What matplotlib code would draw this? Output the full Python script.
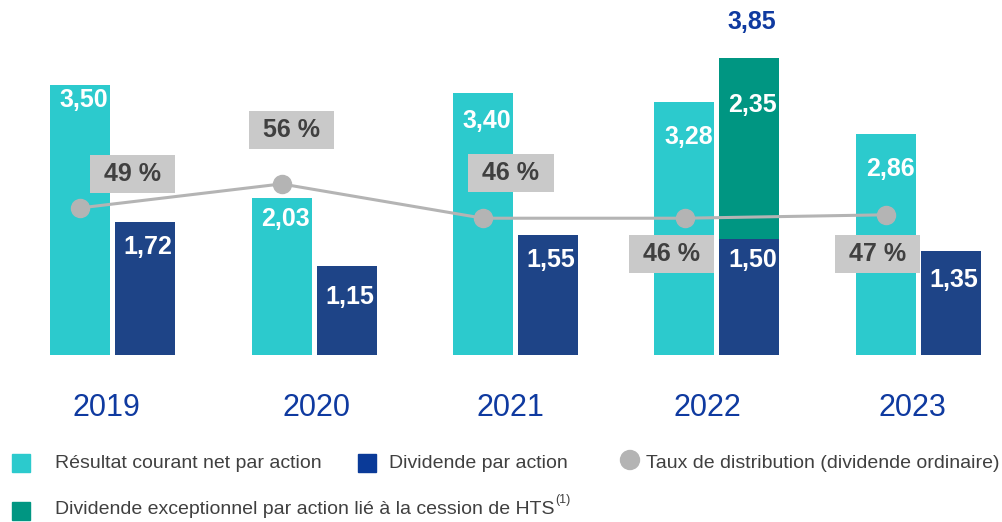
import matplotlib
matplotlib.use("Agg")
import matplotlib.pyplot as plt
import matplotlib.transforms as mtransforms
from matplotlib.patches import Rectangle, Circle
from matplotlib import font_manager
import numpy as np

# ---- data ----
years = ["2019", "2020", "2021", "2022", "2023"]
resultat = [3.50, 2.03, 3.40, 3.28, 2.86]
dividende = [1.72, 1.15, 1.55, 1.50, 1.35]
exceptionnel = [0, 0, 0, 2.35, 0]
taux = [49, 56, 46, 46, 47]
resultat_labels = ["3,50", "2,03", "3,40", "3,28", "2,86"]
dividende_labels = ["1,72", "1,15", "1,55", "1,50", "1,35"]
exceptionnel_label = "2,35"
total_label = "3,85"
taux_labels = ["49 %", "56 %", "46 %", "46 %", "47 %"]
legend_labels = ["Résultat courant net par action", "Dividende par action",
                 "Taux de distribution (dividende ordinaire)",
                 "Dividende exceptionnel par action lié à la cession de HTS"]

# ---- style ----
C_CYAN = "#2ccacd"
C_NAVY = "#1e4487"
C_NAVY_LEG = "#0a3a98"
C_GREEN = "#009682"
C_GRAY = "#b4b4b4"
C_BOX = "#c9c9c9"
C_TXT = "#404040"
C_YEAR = "#0f3aa0"

avail = {f.name for f in font_manager.fontManager.ttflist}
NARROW = "Liberation Sans Narrow" if "Liberation Sans Narrow" in avail else "Liberation Sans"
REG = "Liberation Sans"

# label placement offsets (pixels; dx right, dy up)
res_lab_dy = [-15, -21, -28, -35, -35]
div_lab_dy = [-25, -31, -25, -21, -29]
year_dx = [-6, 3, -5, -10, -6]
box_offsets = [(52, -34), (10, -54), (28, -45), (-13, 36), (-8, 39)]  # dy down

fig = plt.figure(figsize=(10.02, 5.22), dpi=100)
W, H = 1002, 522
base_px = 355
ax = fig.add_axes([0, (H - base_px) / H, 1, base_px / H])
px_per_unit = 77.1
ax.set_ylim(0, base_px / px_per_unit)
spacing = 201.5
c0 = 112.5
ax.set_xlim(-c0 / spacing, (W - c0) / spacing)
ax.axis("off")

x = np.arange(len(years))
bw = 60 / spacing
off = 32.5 / spacing

ax.bar(x - off, resultat, bw, color=C_CYAN, zorder=2)
ax.bar(x + off, dividende, bw, color=C_NAVY, zorder=2)
exc = np.array(exceptionnel)
mask = exc > 0
ax.bar((x + off)[mask], exc[mask], bw, bottom=np.array(dividende)[mask], color=C_GREEN, zorder=2)

val_kw = dict(color="white", fontsize=18, fontweight="bold", family=NARROW,
              ha="center", va="center", textcoords="offset pixels", zorder=5)
for i in range(len(years)):
    ax.annotate(resultat_labels[i], (x[i] - off, resultat[i]), xytext=(4, res_lab_dy[i]), **val_kw)
    ax.annotate(dividende_labels[i], (x[i] + off, dividende[i]), xytext=(3, div_lab_dy[i]), **val_kw)
    if exceptionnel[i] > 0:
        top = dividende[i] + exceptionnel[i]
        ax.annotate(exceptionnel_label, (x[i] + off, top), xytext=(3, -47), **val_kw)
        ax.annotate(total_label, (x[i] + off, top), xytext=(2, 36),
                    color=C_YEAR, fontsize=18, fontweight="bold", family=NARROW,
                    ha="center", va="center", textcoords="offset pixels")

for i, yr in enumerate(years):
    ax.annotate(yr, (x[i], 0), xytext=(year_dx[i], -53), textcoords="offset pixels",
                ha="center", va="center", fontsize=22, family=REG, color=C_YEAR)

# secondary axis for percentages
ax2 = fig.add_axes(ax.get_position(), sharex=ax)
ax2.patch.set_visible(False)
ax2.axis("off")
pp = 3.43
ax2.set_ylim((376 - base_px) / pp, 376 / pp)
ax2.plot(x - off, taux, color=C_GRAY, lw=2.2, marker="o", ms=13,
         markerfacecolor=C_GRAY, markeredgecolor=C_GRAY, zorder=3)

bwid, bhei = 85 / 100, 38 / 100
for i in range(len(years)):
    dx, dy = box_offsets[i]
    tr = fig.dpi_scale_trans + mtransforms.ScaledTranslation(x[i] - off, taux[i], ax2.transData)
    cx, cy = dx / 100, -dy / 100
    ax2.add_artist(Rectangle((cx - bwid / 2, cy - bhei / 2), bwid, bhei, transform=tr,
                             facecolor=C_BOX, edgecolor="none", zorder=6))
    ax2.text(cx, cy, taux_labels[i], transform=tr, ha="center", va="center",
             fontsize=18, fontweight="bold", family=NARROW, color=C_TXT, zorder=7)

# ---- legend (manual) ----
def fy(p):
    return (H - p) / H

sq = 18
leg_font = dict(fontsize=14, family=NARROW, color=C_TXT, va="center", ha="left")
ax_leg = fig.add_axes([0, 0, 1, 1], zorder=-1)
ax_leg.set_xlim(0, W); ax_leg.set_ylim(H, 0); ax_leg.axis("off")
ax_leg.add_patch(Rectangle((12, 454), sq, sq, color=C_CYAN))
fig.text(55 / W, fy(463), legend_labels[0], **leg_font)
ax_leg.add_patch(Rectangle((358, 454), sq, sq, color=C_NAVY_LEG))
fig.text(389 / W, fy(463), legend_labels[1], **leg_font)
ax_leg.add_patch(Circle((630, 460), 9.5, color=C_GRAY))
fig.text(646 / W, fy(463), legend_labels[2], **leg_font)
ax_leg.add_patch(Rectangle((12, 502), sq, sq, color=C_GREEN))
t4 = fig.text(55 / W, fy(510), legend_labels[3], **leg_font)
fig.canvas.draw()
bb = t4.get_window_extent()
fig.text(bb.x1 / W + 1 / W, fy(500), "(1)", fontsize=9, family=NARROW, color=C_TXT, va="center", ha="left")

fig.savefig("out.png", dpi=100)
